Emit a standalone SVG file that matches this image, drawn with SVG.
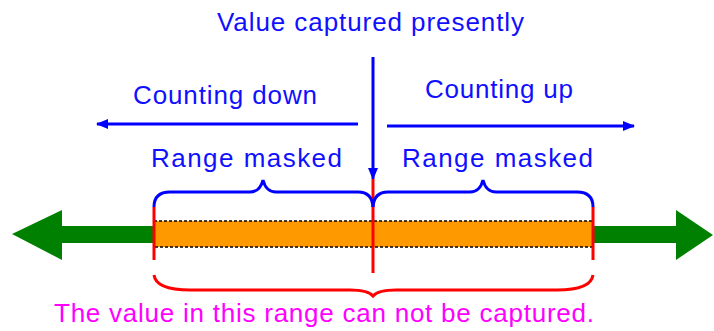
<svg xmlns="http://www.w3.org/2000/svg" width="714" height="331" viewBox="0 0 714 331">
<defs>
<marker id="bh" viewBox="0 0 12 10" refX="11" refY="5" markerWidth="12" markerHeight="10" markerUnits="userSpaceOnUse" orient="auto">
<path d="M0,0 L12,5 L0,10 z" fill="#0000ff"/>
</marker>
<style>
text{font-family:"Liberation Sans",Arial,sans-serif;font-size:26px}
.b{fill:#1010ff}
.m{fill:#ff00ff}
.bl{stroke:#0000ff;stroke-width:3;fill:none}
.rd{stroke:#ff0000;stroke-width:3;fill:none}
.gr{fill:#008000}
</style>
</defs>
<rect width="714" height="331" fill="#ffffff"/>
<g id="label-top"><text class="b" x="217" y="31" textLength="307" lengthAdjust="spacing">Value captured presently</text></g>
<g id="label-down"><text class="b" x="133" y="104" textLength="184" lengthAdjust="spacing">Counting down</text></g>
<g id="label-up"><text class="b" x="425" y="98" textLength="148" lengthAdjust="spacing">Counting up</text></g>
<g id="label-mask-left"><text class="b" x="151" y="167" textLength="191" lengthAdjust="spacing">Range masked</text></g>
<g id="label-mask-right"><text class="b" x="402" y="167" textLength="191" lengthAdjust="spacing">Range masked</text></g>
<g id="label-bottom"><text class="m" x="54" y="322" textLength="540" lengthAdjust="spacing">The value in this range can not be captured.</text></g>
<g id="green-left"><path class="gr" d="M12,234 L62,210 L62,226 L155,226 L155,243 L62,243 L62,260 z"/></g>
<g id="green-right"><path class="gr" d="M713,235 L676,210 L676,226 L592,226 L592,243 L676,243 L676,260 z"/></g>
<g id="bar">
<rect x="154" y="221" width="439" height="26" fill="#ff9900" stroke="#000000" stroke-width="1.5" stroke-dasharray="3,2"/>
<line x1="373" y1="221" x2="373" y2="247" stroke="#000000" stroke-width="1.5" stroke-dasharray="3,2"/>
</g>
<g id="connectors">
<line class="bl" x1="358" y1="124" x2="97" y2="124" marker-end="url(#bh)"/>
<line class="bl" x1="387" y1="126" x2="634" y2="126" marker-end="url(#bh)"/>
<line class="bl" x1="373" y1="57" x2="373" y2="179" marker-end="url(#bh)"/>
</g>
<g id="red-lines">
<line class="rd" x1="154" y1="207" x2="154" y2="260"/>
<line class="rd" x1="593" y1="207" x2="593" y2="260"/>
<line class="rd" x1="373" y1="179" x2="373" y2="273"/>
</g>
<g id="brace-left"><path class="bl" d="M154,207 Q154,192 170,192 L250,192 Q260,192 263,180 Q266,192 276,192 L358,192 Q372,192 373,207"/></g>
<g id="brace-right"><path class="bl" d="M373,207 Q374,192 388,192 L470,192 Q480,192 483,180 Q486,192 496,192 L577,192 Q593,192 593,207"/></g>
<g id="brace-bottom"><path class="rd" d="M154,275 Q156,290 190,290 L350,290 Q368,290 373,296 Q378,290 396,290 L557,290 Q591,290 593,275"/></g>
</svg>
